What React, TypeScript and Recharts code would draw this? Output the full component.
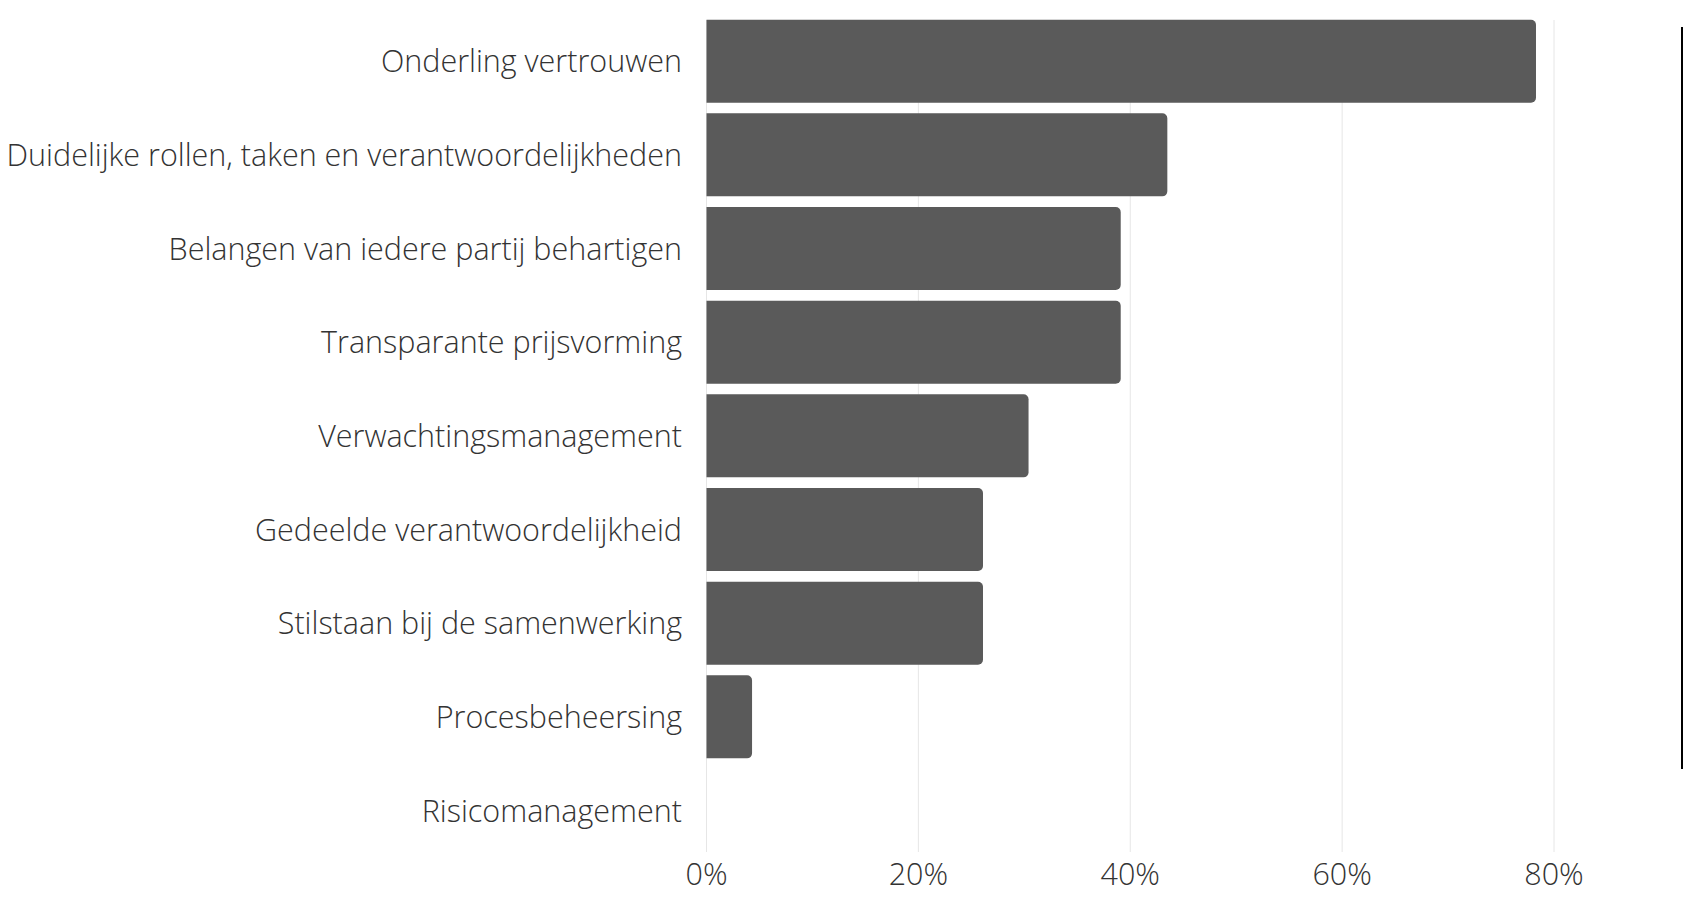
import { Bar, BarChart, CartesianGrid, XAxis, YAxis } from "recharts";

// share of respondents (n = 23) per success factor, in percent
const factors = [
    "Onderling vertrouwen",
    "Duidelijke rollen, taken en verantwoordelijkheden",
    "Belangen van iedere partij behartigen",
    "Transparante prijsvorming",
    "Verwachtingsmanagement",
    "Gedeelde verantwoordelijkheid",
    "Stilstaan bij de samenwerking",
    "Procesbeheersing",
    "Risicomanagement",
];
const shares = [78.3, 43.5, 39.1, 39.1, 30.4, 26.1, 26.1, 4.3, 0];
const xTicks = [0, 20, 40, 60, 80];

const data = factors.map((name, i) => ({ name, value: shares[i] }));

const font = {
    fontFamily: "'Open Sans', sans-serif",
    fontWeight: 300,
    fontSize: 30.5,
    fill: "#333333",
};

export default function App() {
    return (
        <div style={{ position: "absolute", left: 0, top: 0, width: 1683, height: 898, background: "#fff" }}>
            <BarChart
                width={1683}
                height={898}
                layout="vertical"
                data={data}
                margin={{ top: 14.7, right: 129, left: 0, bottom: 0 }}
            >
                <CartesianGrid horizontal={false} stroke="#e6e6e6" y={20} height={832} />
                <XAxis
                    type="number"
                    domain={[0, 80]}
                    ticks={xTicks}
                    tickFormatter={(v: number) => `${v}%`}
                    axisLine={false}
                    tickLine={false}
                    tickSize={0}
                    tickMargin={6}
                    height={40.3}
                    tick={font}
                    interval={0}
                />
                <YAxis
                    type="category"
                    dataKey="name"
                    width={706.5}
                    axisLine={false}
                    tickLine={false}
                    tickSize={0}
                    tickMargin={24.5}
                    tick={font}
                    interval={0}
                />
                <Bar dataKey="value" fill="#5a5a5a" barSize={83} radius={[0, 5, 5, 0]} isAnimationActive={false} />
            </BarChart>
            <div style={{ position: "absolute", left: 1681, top: 27, width: 0, height: 742, borderLeft: "2px solid #000" }} />
        </div>
    );
}
